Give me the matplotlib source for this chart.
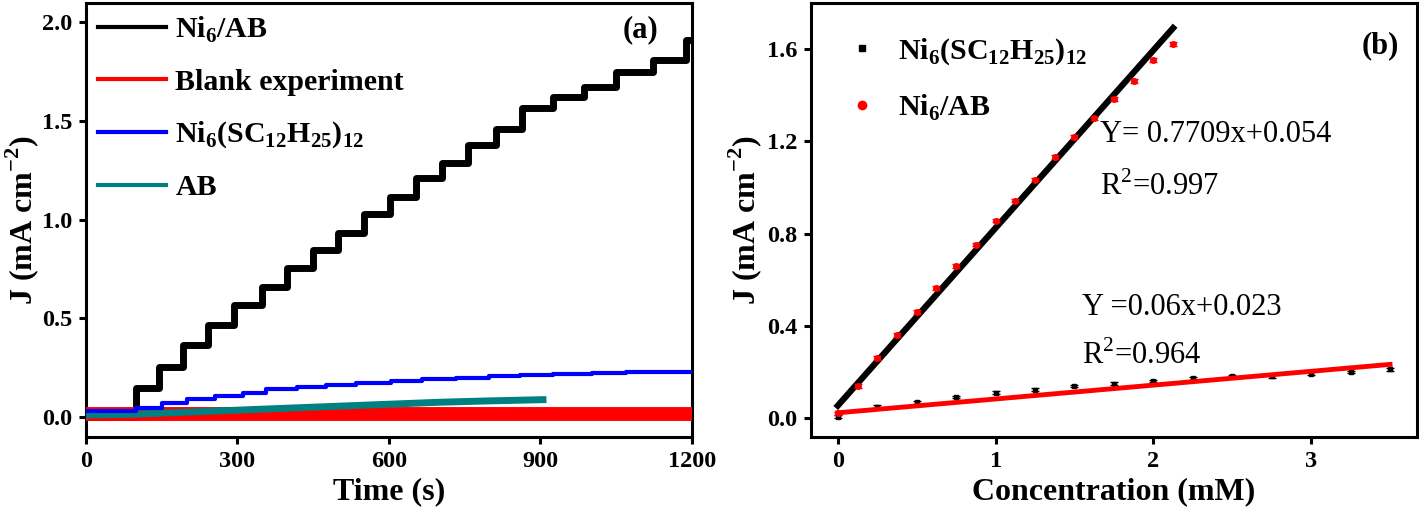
import numpy as np
import matplotlib.pyplot as plt
from matplotlib.lines import Line2D

plt.rcParams['font.family'] = 'Liberation Serif'
plt.rcParams['mathtext.fontset'] = 'custom'
plt.rcParams['mathtext.rm'] = 'Liberation Serif'
plt.rcParams['mathtext.bf'] = 'Liberation Serif:bold'

# (a) chronoamperometry, step levels
ni_ab_t = [0, 100, 145, 192, 242, 293, 348, 399, 449, 500, 551, 602, 654, 705, 757, 813, 863, 925, 987, 1049, 1123, 1188, 1200]
ni_ab_j = [0.0, 0.145, 0.255, 0.364, 0.466, 0.567, 0.66, 0.753, 0.846, 0.93, 1.03, 1.115, 1.21, 1.285, 1.377, 1.46, 1.563, 1.62, 1.67, 1.75, 1.81, 1.91, 1.91]

ni_sc_t = [0, 100, 151, 201, 256, 310, 356, 418, 476, 534, 604, 666, 732, 798, 860, 925, 1003, 1069, 1134, 1200]
ni_sc_j = [0.03, 0.044, 0.069, 0.091, 0.108, 0.123, 0.14, 0.153, 0.162, 0.174, 0.182, 0.191, 0.199, 0.208, 0.213, 0.218, 0.222, 0.226, 0.229, 0.229]

ab_t = [0, 100, 200, 300, 400, 500, 600, 700, 800, 905]
ab_j = [0.01, 0.015, 0.025, 0.035, 0.045, 0.055, 0.065, 0.075, 0.082, 0.088]

blank_t = [0, 300, 600, 900, 1200]
blank_j = [0.015, 0.015, 0.015, 0.015, 0.015]

# (b) calibration
conc_ab = [0, 0.125, 0.25, 0.375, 0.5, 0.625, 0.75, 0.875, 1.0, 1.125, 1.25, 1.375, 1.5, 1.625, 1.75, 1.875, 2.0, 2.125]
j_ab = [0.02, 0.139, 0.26, 0.36, 0.46, 0.564, 0.659, 0.753, 0.857, 0.944, 1.035, 1.134, 1.218, 1.3, 1.385, 1.463, 1.554, 1.623]
conc_sc = [0, 0.25, 0.5, 0.75, 1.0, 1.25, 1.5, 1.75, 2.0, 2.25, 2.5, 2.75, 3.0, 3.25, 3.5]
j_sc = [0.006, 0.049, 0.068, 0.092, 0.11, 0.124, 0.139, 0.15, 0.161, 0.172, 0.183, 0.182, 0.193, 0.2, 0.212]
fit_ab = (0.7709, 0.054)
fit_sc = (0.06, 0.023)

lab_sc = 'Ni$_\\mathbf{6}$(SC$_\\mathbf{12}$H$_\\mathbf{25}$)$_\\mathbf{12}$'
lab_ab = 'Ni$_\\mathbf{6}$/AB'
ylab = 'J (mA cm$^\\mathbf{-2}$)'

fig = plt.figure(figsize=(14.19, 5.14), dpi=100)
ax1 = fig.add_axes([0.0606, 0.1498, 0.427, 0.844])
ax2 = fig.add_axes([0.5715, 0.1498, 0.427, 0.844])

ax1.step(ni_ab_t, ni_ab_j, where='post', color='black', lw=5, label=lab_ab, zorder=2)
ax1.plot(blank_t, blank_j, color='red', lw=10, label='Blank experiment', zorder=3)
ax1.step(ni_sc_t, ni_sc_j, where='post', color='blue', lw=3, label=lab_sc, zorder=5)
ax1.plot(ab_t, ab_j, color='#008080', lw=5, label='AB', zorder=4)
ax1.set_xlim(0, 1200)
ax1.set_ylim(-0.101, 2.096)
ax1.set_xticks([0, 300, 600, 900, 1200])
ax1.set_yticks([0.0, 0.5, 1.0, 1.5, 2.0])
ax1.set_xlabel('Time (s)', fontsize=23, fontweight='bold')
ax1.set_ylabel(ylab, fontsize=23, fontweight='bold')
ax1.yaxis.set_label_coords(-0.075, 0.5)
leg = ax1.legend(loc='upper left', bbox_to_anchor=(-0.025, 1.035), frameon=False,
                 prop={'size': 21.5, 'weight': 'bold'}, handlelength=2.3,
                 handletextpad=0.3, labelspacing=0.8)
for h in leg.get_lines():
    h.set_linewidth(3)
ax1.text(0.915, 0.938, '(a)', transform=ax1.transAxes, fontsize=22, fontweight='bold', ha='center', va='center')

xx = np.array([0, 2.125])
ax2.plot(xx, fit_ab[0] * xx + fit_ab[1], color='black', lw=4.5, zorder=2)
xs = np.array([0, 3.5])
ax2.errorbar(conc_sc, j_sc, yerr=0.006, fmt='s', color='black', ms=3.5, capsize=3, lw=1, zorder=3)
ax2.plot(xs, fit_sc[0] * xs + fit_sc[1], color='red', lw=3.5, zorder=4)
ax2.errorbar(conc_ab, j_ab, yerr=0.008, fmt='o', color='red', ms=4, capsize=3, lw=1, zorder=5)
ax2.set_xlim(-0.17, 3.67)
ax2.set_ylim(-0.082, 1.80)
ax2.set_xticks([0, 1, 2, 3])
ax2.set_yticks([0.0, 0.4, 0.8, 1.2, 1.6])
ax2.set_xlabel('Concentration (mM)', fontsize=23, fontweight='bold')
ax2.set_ylabel(ylab, fontsize=23, fontweight='bold')
ax2.yaxis.set_label_coords(-0.077, 0.5)
handles = [Line2D([], [], ls='none', marker='s', ms=5, color='black'),
           Line2D([], [], ls='none', marker='o', ms=6, color='red')]
ax2.legend(handles, [lab_sc, lab_ab], loc='upper left', bbox_to_anchor=(0.015, 0.985), frameon=False,
           prop={'size': 21.5, 'weight': 'bold'}, handlelength=1.0,
           handletextpad=0.7, labelspacing=0.85)
ax2.text(0.939, 0.903, '(b)', transform=ax2.transAxes, fontsize=22, fontweight='bold', ha='center', va='center')
ax2.text(1.66, 1.23, 'Y= 0.7709x+0.054', fontsize=22, va='center')
ax2.text(1.66, 1.005, 'R$^2$=0.997', fontsize=22, va='center')
ax2.text(1.55, 0.478, 'Y =0.06x+0.023', fontsize=22, va='center')
ax2.text(1.55, 0.272, 'R$^2$=0.964', fontsize=22, va='center')

for ax in (ax1, ax2):
    for s in ax.spines.values():
        s.set_linewidth(2.2)
    ax.tick_params(direction='out', length=5, width=2.2, labelsize=17.5, pad=5)
    for lab in ax.get_xticklabels() + ax.get_yticklabels():
        lab.set_fontweight('bold')

fig.savefig('out.png', dpi=100)
